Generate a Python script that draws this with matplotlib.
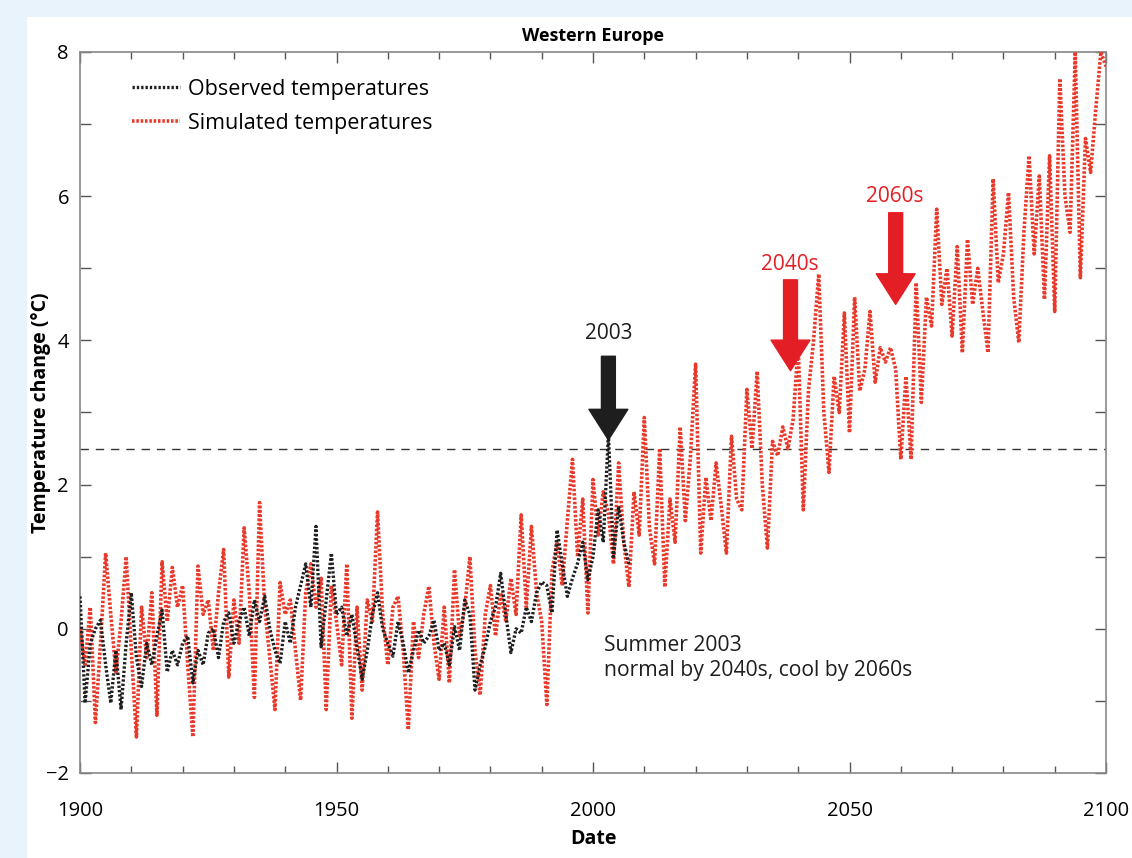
import matplotlib
matplotlib.use("Agg")
import matplotlib.pyplot as plt
from matplotlib.patches import Rectangle
import numpy as np

plt.rcParams['font.family'] = ['Open Sans', 'DejaVu Sans']

sim_years = list(range(1900, 2101))
sim_values = [
    0.0, -0.5, 0.3, -1.3, -0.2, 1.05, 0.2, -0.6, 0.1, 1.0,          # 1900-1909
    -0.3, -1.5, 0.3, -0.4, 0.5, -1.2, 0.93, 0.1, 0.85, 0.3,         # 1910-1919
    0.6, -0.5, -1.5, 0.87, 0.2, 0.4, -0.3, 0.5, 1.1, -0.67,         # 1920-1929
    0.4, -0.2, 1.4, 0.5, -0.95, 1.75, 0.3, -0.4, -1.12, 0.64,       # 1930-1939
    0.2, 0.4, -0.3, -0.99, 0.5, 0.9, 0.3, 0.7, -1.12, 0.6,          # 1940-1949
    0.1, -0.5, 0.9, -1.24, 0.3, -0.85, 0.4, 0.1, 1.62, 0.2,         # 1950-1959
    -0.5, 0.3, 0.45, -0.3, -1.4, 0.1, -0.4, 0.2, 0.59, -0.2,        # 1960-1969
    -0.7, 0.3, -0.75, 0.82, -0.1, 0.3, 1.0, -0.3, -0.92, 0.2,       # 1970-1979
    0.6, -0.1, 0.5, 0.1, 0.7, 0.2, 1.58, 0.3, 1.42, 0.5,            # 1980-1989
    0.1, -1.05, 0.8, 1.2, 0.6, 1.5, 2.35, 1.0, 1.8, 0.22,           # 1990-1999
    2.07, 1.3, 1.9, 1.6, 0.9, 2.3, 1.2, 0.58, 1.9, 1.3,             # 2000-2009
    2.93, 1.4, 0.9, 2.5, 0.58, 1.8, 1.2, 2.8, 1.5, 2.4,             # 2010-2019
    3.67, 1.05, 2.1, 1.5, 2.3, 1.7, 1.05, 2.67, 1.8, 1.65,          # 2020-2029
    3.32, 2.5, 3.57, 2.0, 1.12, 2.6, 2.4, 2.8, 2.5, 2.9,            # 2030-2039
    3.92, 1.65, 3.3, 4.0, 4.92, 3.0, 2.17, 3.5, 3.0, 4.38,          # 2040-2049
    2.72, 4.6, 3.3, 3.6, 4.4, 3.42, 3.9, 3.7, 3.9, 3.6,             # 2050-2059
    2.35, 3.5, 2.35, 4.8, 3.14, 4.6, 4.2, 5.82, 4.5, 5.0,           # 2060-2069
    4.06, 5.3, 3.83, 5.4, 4.5, 5.0, 4.4, 3.83, 6.24, 4.8,           # 2070-2079
    5.2, 6.05, 4.6, 3.97, 5.5, 6.56, 5.2, 6.28, 4.57, 6.56,         # 2080-2089
    4.4, 7.63, 6.0, 5.5, 8.0, 4.87, 6.8, 6.33, 7.2, 8.0,            # 2090-2099
    7.8,                                                            # 2100
]

obs_years = list(range(1900, 2008))
obs_values = [
    0.45, -1.03, -0.2, 0.0, 0.12, -0.5, -1.03, -0.3, -1.12, -0.2,   # 1900-1909
    0.5, -0.4, -0.8, -0.2, -0.5, -0.1, 0.26, -0.6, -0.3, -0.5,      # 1910-1919
    -0.2, -0.1, -0.75, -0.3, -0.5, -0.06, 0.0, -0.4, 0.1, 0.22,     # 1920-1929
    -0.2, 0.1, 0.3, -0.1, 0.4, 0.1, 0.45, 0.0, -0.3, -0.48,         # 1930-1939
    0.1, -0.2, 0.3, 0.6, 0.9, 0.3, 1.42, -0.25, 0.4, 1.05,          # 1940-1949
    0.2, 0.3, -0.1, 0.2, -0.25, -0.7, -0.3, 0.2, 0.5, 0.0,          # 1950-1959
    -0.2, -0.38, 0.1, -0.2, -0.61, -0.3, -0.02, -0.2, -0.1, 0.12,   # 1960-1969
    -0.3, -0.2, -0.5, 0.03, -0.3, 0.4, 0.2, -0.85, -0.5, -0.25,     # 1970-1979
    0.1, 0.3, 0.77, 0.2, -0.33, 0.0, -0.06, 0.3, 0.1, 0.5,          # 1980-1989
    0.65, 0.6, 0.22, 1.37, 0.9, 0.45, 0.7, 0.91, 1.2, 0.68,         # 1990-1999
    1.0, 1.65, 1.2, 2.7, 1.0, 1.7, 1.2, 0.9,                        # 2000-2007
]

threshold = 2.5
x_ticks = [1900, 1950, 2000, 2050, 2100]
y_ticks = [-2, 0, 2, 4, 6, 8]

RED = '#e8392a'
ARROW_RED = '#e31e24'
DARK = '#1e1e1e'

fig = plt.figure(figsize=(11.32, 8.58), dpi=100)
fig.patch.set_facecolor('#e8f3fc')
bg = Rectangle((27 / 1132, 0), 1 - 27 / 1132, 1 - 17 / 858,
               transform=fig.transFigure, facecolor='white',
               edgecolor='none', zorder=-10)
fig.patches.append(bg)

ax = fig.add_axes([80 / 1132, 1 - 773 / 858, (1106 - 80) / 1132, (773 - 52) / 858])
ax.set_zorder(1)
ax.set_facecolor('white')

ax.plot(sim_years, sim_values, color=RED, linestyle=(0, (0.7, 0.5)), linewidth=2.6,
        label='Simulated temperatures', zorder=3)
ax.plot(obs_years, obs_values, color=DARK, linestyle=(0, (0.7, 0.6)), linewidth=2.4,
        label='Observed temperatures', zorder=4)

ax.axhline(threshold, color='#333333', linestyle=(0, (6, 5)), linewidth=1.0, zorder=2)

ax.set_xlim(1900, 2100)
ax.set_ylim(-2, 8)
ax.set_xticks(x_ticks)
ax.set_yticks(y_ticks)
ax.set_xticks(range(1900, 2101, 10), minor=True)
ax.set_yticks(range(-2, 9, 1), minor=True)
ax.tick_params(axis='both', which='both', direction='in', top=True, right=True,
               color='#555555', labelsize=14.5, length=8, width=1, pad=8)
ax.tick_params(axis='x', which='major', pad=20)
ax.tick_params(axis='x', which='minor', length=5)
ax.tick_params(axis='y', which='minor', length=8)
for s in ax.spines.values():
    s.set_color('#888888')
    s.set_linewidth(1.2)

ax.set_title('Western Europe', fontsize=13, fontweight='bold', pad=8)
ax.set_xlabel('Date', fontsize=14, fontweight='bold', labelpad=6)
ax.set_ylabel('Temperature change (°C)', fontsize=14, fontweight='bold', labelpad=-4)

handles, labels = ax.get_legend_handles_labels()
ax.legend(handles[::-1], labels[::-1], loc='upper left', bbox_to_anchor=(0.032, 0.99),
          frameon=False, fontsize=15.5, handlelength=2.2, handletextpad=0.4,
          labelspacing=0.6)

def down_arrow(x, y_top, y_tip, color):
    ax.annotate('', xy=(x, y_tip), xytext=(x, y_top),
                arrowprops=dict(facecolor=color, edgecolor=color, width=10,
                                headwidth=28, headlength=22, shrink=0),
                zorder=6)

down_arrow(2003, 3.78, 2.62, DARK)
ax.text(2003, 4.1, '2003', ha='center', va='center', fontsize=15, color=DARK)
down_arrow(2038.5, 4.84, 3.58, ARROW_RED)
ax.text(2038.4, 5.05, '2040s', ha='center', va='center', fontsize=15, color=ARROW_RED)
down_arrow(2059, 5.77, 4.5, ARROW_RED)
ax.text(2058.8, 5.99, '2060s', ha='center', va='center', fontsize=15, color=ARROW_RED)

ax.text(2002.2, -0.08, 'Summer 2003\nnormal by 2040s, cool by 2060s', ha='left', va='top',
        fontsize=15.2, color=DARK, linespacing=1.3)

fig.savefig('out.png', dpi=100, facecolor=fig.get_facecolor())
